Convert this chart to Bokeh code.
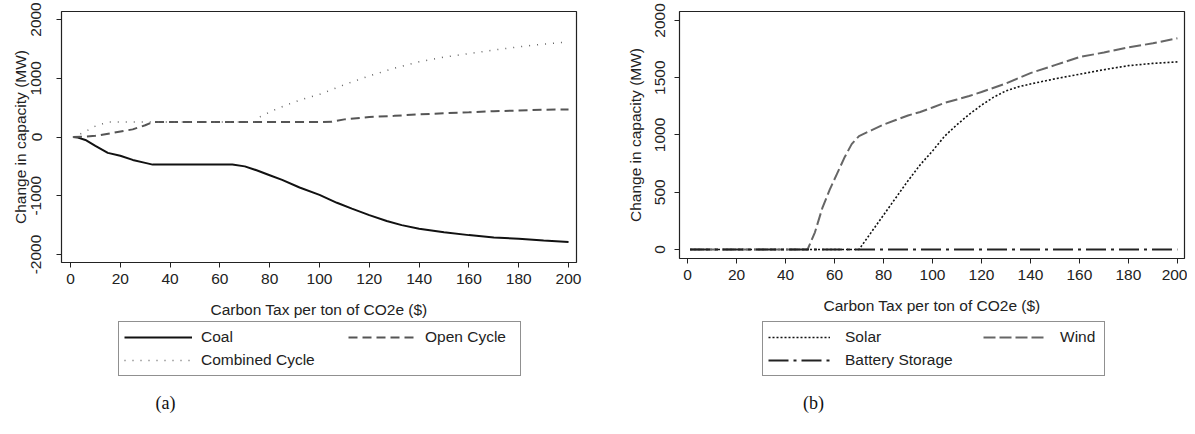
from bokeh.plotting import figure
from bokeh.layouts import row, column
from bokeh.models import Legend, LegendItem, Label, Range1d, FixedTicker
from bokeh.embed import file_html
from bokeh.resources import INLINE

# ---- Panel (a) data ----
coal_x = [1, 3, 6, 10, 15, 20, 25, 30, 33, 40, 50, 60, 65, 70, 75, 80, 85, 92, 100,
          107, 113, 120, 127, 133, 140, 150, 160, 170, 180, 190, 200]
coal_y = [0, -10, -50, -150, -270, -320, -390, -440, -470, -470, -470, -470, -470, -500,
          -570, -650, -730, -860, -985, -1120, -1220, -1330, -1430, -1500, -1560, -1620,
          -1670, -1710, -1730, -1760, -1785]

open_x = [1, 5, 10, 17, 25, 30, 33, 40, 60, 80, 100, 105, 110, 120, 130, 140, 150,
          160, 170, 180, 190, 200]
open_y = [0, 5, 20, 70, 130, 200, 255, 255, 255, 255, 255, 260, 300, 340, 360, 385,
          405, 420, 440, 450, 465, 468]

comb_x = [1, 5, 10, 15, 20, 30, 40, 50, 60, 70, 74, 76, 81, 87, 93, 100, 110, 120,
          130, 140, 150, 160, 170, 180, 190, 200]
comb_y = [0, 70, 185, 255, 255, 255, 255, 255, 255, 255, 260, 340, 445, 550, 640, 725,
          890, 1040, 1170, 1280, 1360, 1420, 1480, 1535, 1580, 1620]

# ---- Panel (b) data ----
solar_x = [1, 20, 40, 60, 70, 75, 80, 85, 90, 95, 100, 105, 110, 115, 120, 125, 130,
           135, 140, 150, 160, 170, 180, 190, 200]
solar_y = [0, 0, 0, 0, 0, 150, 300, 450, 600, 740, 860, 990, 1090, 1180, 1260, 1330,
           1385, 1420, 1445, 1490, 1530, 1570, 1605, 1625, 1638]

wind_x = [1, 20, 40, 48, 49, 52, 55, 58, 61, 64, 67, 70, 75, 80, 85, 90, 95, 100, 105,
          110, 115, 120, 130, 140, 150, 160, 170, 180, 190, 200]
wind_y = [0, 0, 0, 0, 0, 150, 360, 520, 660, 800, 920, 990, 1040, 1090, 1130, 1170,
          1200, 1240, 1280, 1310, 1340, 1375, 1450, 1540, 1610, 1680, 1720, 1765, 1800, 1845]

batt_x = [1, 50, 100, 150, 200]
batt_y = [0, 0, 0, 0, 0]

x_ticks = [0, 20, 40, 60, 80, 100, 120, 140, 160, 180, 200]
a_y_ticks = [-2000, -1000, 0, 1000, 2000]
b_y_ticks = [0, 500, 1000, 1500, 2000]
a_y_labels = {-2000: "-2000", -1000: "-1000", 0: "0", 1000: "1000", 2000: "2000"}

a_series = ["Coal", "Open Cycle", "Combined Cycle"]
b_series = ["Solar", "Wind", "Battery Storage"]

FONT = "Liberation Sans"
FS = "15.5px"
INK = "#222222"

STY_A = [dict(line_color="#111111", line_width=2),
         dict(line_color="#555555", line_width=2, line_dash="9 5"),
         dict(line_color="#666666", line_width=1.5, line_dash="1 7")]
STY_B = [dict(line_color="#111111", line_width=1.6, line_dash="2 2"),
         dict(line_color="#666666", line_width=2, line_dash="12 4"),
         dict(line_color="#222222", line_width=2, line_dash="20 5 3 5")]

OFF = -1000  # legend panels use an x window that holds no data
LEG_H = 98


def style(p, yticks):
    p.outline_line_color = INK
    p.outline_line_width = 1.2
    p.xgrid.visible = False
    p.ygrid.visible = False
    p.xaxis.ticker = FixedTicker(ticks=x_ticks)
    p.yaxis.ticker = FixedTicker(ticks=yticks)
    for ax in (p.xaxis[0], p.yaxis[0]):
        ax.axis_line_color = None
        ax.major_tick_in = 0
        ax.major_tick_out = 5
        ax.minor_tick_line_color = None
        ax.major_tick_line_color = INK
        ax.major_label_text_font = FONT
        ax.major_label_text_font_size = FS
        ax.major_label_text_color = INK
        ax.axis_label_text_font = FONT
        ax.axis_label_text_font_size = FS
        ax.axis_label_text_font_style = "normal"
        ax.axis_label_text_color = INK
    p.yaxis[0].major_label_orientation = "vertical"
    p.xaxis[0].axis_label = "Carbon Tax per ton of CO2e ($)"
    p.yaxis[0].axis_label = "Change in capacity (MW)"
    p.xaxis[0].major_label_standoff = 6
    p.xaxis[0].axis_label_standoff = 14


def make_leg(items, loc, gw, ls, lw, border):
    lg = Legend(items=items, location=loc, orientation="vertical")
    lg.label_text_font = FONT
    lg.label_text_font_size = FS
    lg.label_text_color = INK
    lg.border_line_color = INK if border else None
    lg.border_line_width = 1
    lg.background_fill_alpha = 1 if border else 0
    lg.glyph_width = gw
    lg.label_width = lw
    lg.label_standoff = ls
    lg.padding = 5
    lg.spacing = 3
    lg.margin = 0
    return lg


def legend_fig(width, names, xs_list, ys_list, styles, x_left, x_col2, box_w,
               gw, ls, caption, cap_x):
    f = figure(width=width, height=LEG_H, output_backend="svg", toolbar_location=None,
               x_range=Range1d(OFF, OFF + width), y_range=Range1d(0, LEG_H),
               x_axis_type=None, y_axis_type=None, min_border=0)
    f.outline_line_color = None
    f.xgrid.visible = False
    f.ygrid.visible = False
    rs = [f.line(xs, ys, **s) for xs, ys, s in zip(xs_list, ys_list, styles)]
    lw = box_w - 10 - gw - ls
    # first column (with the framing box), then the second column on top
    main = make_leg([LegendItem(label=names[0], renderers=[rs[0]]),
                     LegendItem(label=names[2], renderers=[rs[2]])],
                    (x_left, 42), gw, ls, lw, True)
    side = make_leg([LegendItem(label=names[1], renderers=[rs[1]])],
                    (x_col2, 42 + 29), gw, ls, 20, False)
    f.add_layout(main, "center")
    f.add_layout(side, "center")
    f.add_layout(Label(x=OFF + cap_x, y=16, text=caption, text_align="center",
                       text_baseline="middle", text_font="Liberation Serif",
                       text_font_size="18px", text_color="#111111"))
    return f


# ---- Panel (a) ----
pa = figure(width=590, frame_height=251, output_backend="svg", toolbar_location=None,
            x_range=Range1d(-3.6, 203.2), y_range=Range1d(-2136, 2136),
            min_border_left=61, min_border_right=14, min_border_top=5,
            min_border_bottom=64)
style(pa, a_y_ticks)
pa.yaxis[0].major_label_overrides = a_y_labels
pa.yaxis[0].major_label_standoff = 15
pa.yaxis[0].axis_label_standoff = 0
for xs, ys, s in zip([coal_x, open_x, comb_x], [coal_y, open_y, comb_y], STY_A):
    pa.line(xs, ys, **s)

# ---- Panel (b) ----
pb = figure(width=597, frame_height=247, output_backend="svg", toolbar_location=None,
            x_range=Range1d(-3.3, 202.9), y_range=Range1d(-79, 2078),
            min_border_left=89, min_border_right=3, min_border_top=11,
            min_border_bottom=62)
style(pb, b_y_ticks)
pb.yaxis[0].major_label_standoff = 9
pb.yaxis[0].axis_label_standoff = 9
for xs, ys, s in zip([solar_x, wind_x, batt_x], [solar_y, wind_y, batt_y], STY_B):
    pb.line(xs, ys, **s)

la = legend_fig(590, a_series, [coal_x, open_x, comb_x], [coal_y, open_y, comb_y],
                STY_A, 118, 348, 401, 68, 9, "(a)", 165)
lb = legend_fig(597, b_series, [solar_x, wind_x, batt_x], [solar_y, wind_y, batt_y],
                STY_B, 172, 393, 341, 62, 15, "(b)", 223)

layout = column(row(pa, pb, spacing=0), row(la, lb, spacing=0), spacing=0)
open("out.html", "w").write(file_html(layout, INLINE))
